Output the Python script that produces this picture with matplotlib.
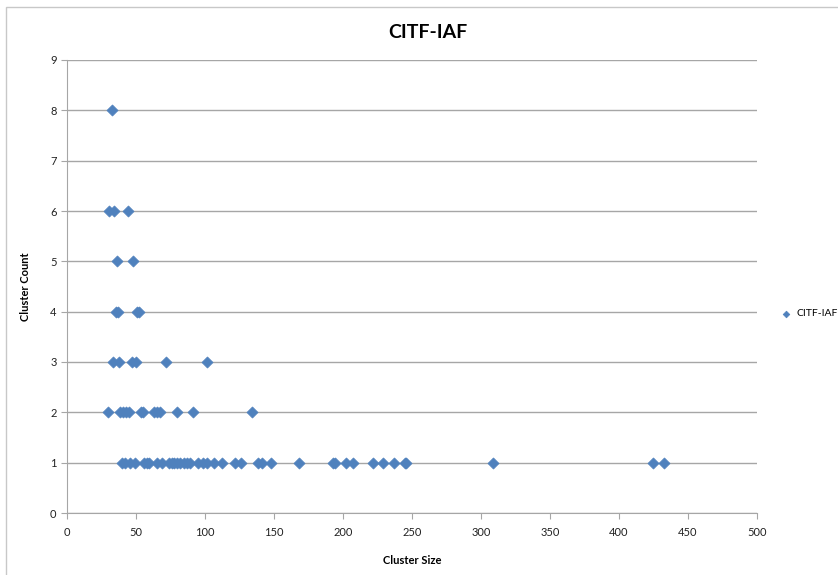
import matplotlib.pyplot as plt
from matplotlib.patches import Rectangle

plt.rcParams['font.family'] = ['Lato', 'DejaVu Sans']

# cluster size values, grouped by cluster count
size_c1 = [39.6, 42, 45.7, 49.3, 55.8, 57.7, 59.6, 65, 68.6, 74.2, 75.8, 77.5, 79.5,
           81.9, 84.8, 86.7, 89.1, 95.2, 98.3, 101.2, 106.8, 112.6, 121.7, 125.8,
           138.2, 141.5, 147.6, 168.2, 192.5, 194.2, 202.2, 207.5, 221.5, 229.2,
           237.2, 244.6, 245.4, 309, 424.4, 432.6]
size_c2 = [30, 38.4, 40.8, 42.8, 45.2, 53.4, 54.8, 63, 65, 67.4, 80, 91.5, 133.8]
size_c3 = [33.1, 37.9, 46.9, 50, 71.7, 101.2]
size_c4 = [35.5, 37.2, 50.5, 52.2]
size_c5 = [36.2, 48]
size_c6 = [30.7, 34.3, 44]
size_c8 = [32.4]

groups = [(1, size_c1), (2, size_c2), (3, size_c3), (4, size_c4),
          (5, size_c5), (6, size_c6), (8, size_c8)]
xs = []
ys = []
for cnt, sizes in groups:
    xs += sizes
    ys += [cnt] * len(sizes)

fig = plt.figure(figsize=(8.38, 5.75), dpi=100)
ax = fig.add_axes([67/838, 1-513/575, 690/838, 453/575])

# outer chart border
fig.patches.append(Rectangle((6/838, -0.01), 1.0, 1-7/575+0.01, transform=fig.transFigure,
                             fill=False, edgecolor='#c8c8c8', lw=1))

ax.scatter(xs, ys, marker='D', s=32, color='#4F81BD', edgecolors='#4F81BD',
           linewidths=0.5, zorder=3, label='CITF-IAF')

ax.set_xlim(0, 500)
ax.set_ylim(0, 9)
ax.set_xticks(range(0, 501, 50))
ax.set_yticks(range(0, 10))
ax.grid(axis='y', color='#a6a6a6', lw=1)
ax.set_axisbelow(True)
for s in ['top', 'right']:
    ax.spines[s].set_visible(False)
for s in ['left', 'bottom']:
    ax.spines[s].set_color('#a6a6a6')
ax.tick_params(colors='#a6a6a6', labelcolor='#222222', labelsize=8, length=4)
ax.tick_params(axis='x', pad=6)

fig.text(428/838, 1-33/575, 'CITF-IAF', fontsize=14, fontweight='bold',
         ha='center', va='center')
ax.set_xlabel('Cluster Size', fontsize=8, fontweight='bold', labelpad=12)
ax.set_ylabel('Cluster Count', fontsize=8, fontweight='bold', labelpad=14)

ax.legend(loc='center left', bbox_to_anchor=(1.013, 0.44), frameon=False,
          fontsize=7.5, handletextpad=0.0, markerscale=0.6)

fig.savefig('out.png', dpi=100)
